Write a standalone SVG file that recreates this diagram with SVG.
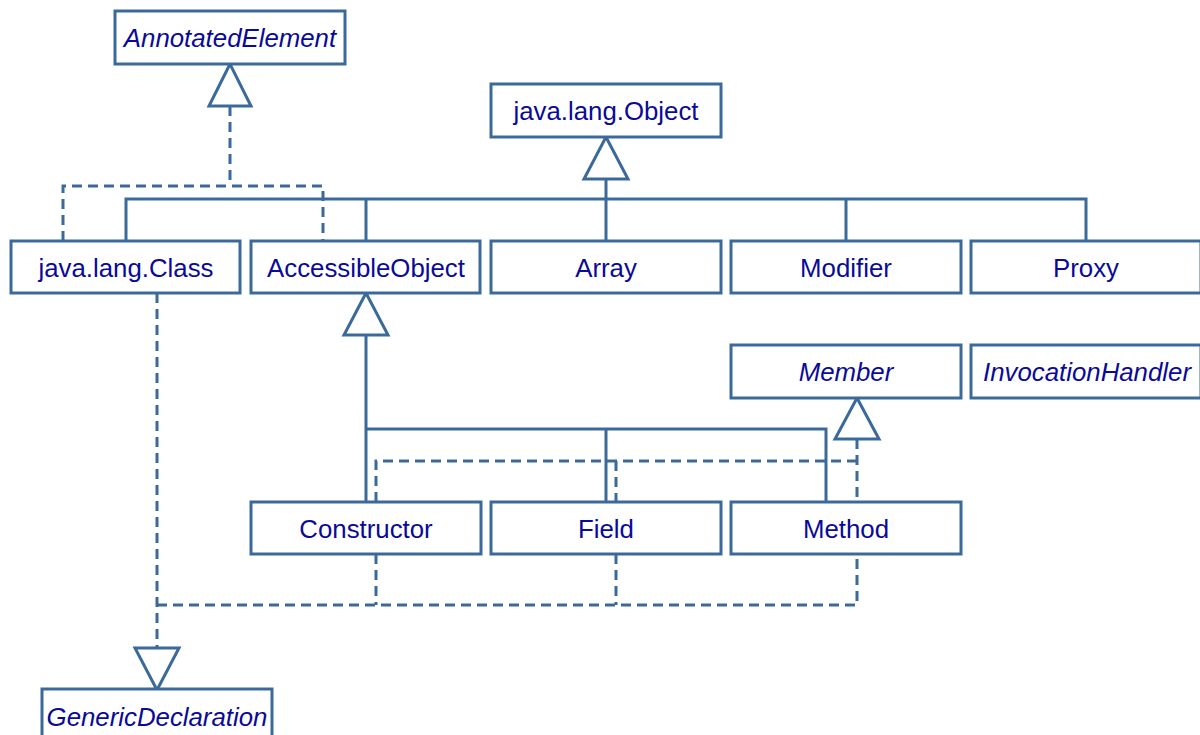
<svg xmlns="http://www.w3.org/2000/svg" width="1200" height="735" viewBox="0 0 1200 735">
<style>
.box{fill:#fff;stroke:#3b6a9a;stroke-width:3}
.t{font-family:"Liberation Sans",Arial,sans-serif;font-size:25.8px;fill:#0a0a99;text-anchor:middle}
.i{font-style:italic}
.s{fill:none;stroke:#3b6a9a;stroke-width:3}
.d{fill:none;stroke:#3b6a9a;stroke-width:3;stroke-dasharray:10 6}
.tri{fill:#fff;stroke:#3b6a9a;stroke-width:3;stroke-linejoin:miter}
</style>
<rect width="1200" height="735" fill="#fff"/>
<g id="connectors">
  <!-- realizations to AnnotatedElement -->
  <path class="d" d="M230 106 V186 M63 241 V186 H323 V241"/>
  <!-- inheritance from java.lang.Object -->
  <path class="s" d="M606 179 V241 M126 241 V199 H1086 V241 M366 199 V241 M846 199 V241"/>
  <!-- inheritance from AccessibleObject -->
  <path class="s" d="M366 335 V502 M366 429 H826 V502 M606 429 V502"/>
  <!-- realizations to Member -->
  <path class="d" d="M857 439 V502 M376 502 V461 H857 M616 461 V502"/>
  <!-- realizations to GenericDeclaration -->
  <path class="d" d="M157 293 V648 M157 605 H857 V554 M376 554 V605 M616 554 V605"/>
  <polygon class="tri" points="230,64 209,106 251,106"/>
  <polygon class="tri" points="606,137 584,179 628,179"/>
  <polygon class="tri" points="366,293 344,335 388,335"/>
  <polygon class="tri" points="857,398 835,439 879,439"/>
  <polygon class="tri" points="157,690 135,648 179,648"/>
</g>
<g id="AnnotatedElement"><rect class="box" x="115" y="11" width="230" height="53"/><text class="t i" x="230" y="47">AnnotatedElement</text></g>
<g id="Object"><rect class="box" x="491" y="84" width="230" height="53"/><text class="t" x="606" y="120">java.lang.Object</text></g>
<g id="Class"><rect class="box" x="11" y="241" width="229" height="52"/><text class="t" x="126" y="277">java.lang.Class</text></g>
<g id="AccessibleObject"><rect class="box" x="251" y="241" width="229" height="52"/><text class="t" x="366" y="277">AccessibleObject</text></g>
<g id="Array"><rect class="box" x="491" y="241" width="230" height="52"/><text class="t" x="606" y="277">Array</text></g>
<g id="Modifier"><rect class="box" x="731" y="241" width="230" height="52"/><text class="t" x="846" y="277">Modifier</text></g>
<g id="Proxy"><rect class="box" x="971" y="241" width="230" height="52"/><text class="t" x="1086" y="277">Proxy</text></g>
<g id="Member"><rect class="box" x="731" y="345" width="230" height="53"/><text class="t i" x="846" y="381">Member</text></g>
<g id="InvocationHandler"><rect class="box" x="971" y="345" width="230" height="53"/><text class="t i" x="1087" y="381">InvocationHandler</text></g>
<g id="Constructor"><rect class="box" x="251" y="502" width="230" height="52"/><text class="t" x="366" y="538">Constructor</text></g>
<g id="Field"><rect class="box" x="491" y="502" width="230" height="52"/><text class="t" x="606" y="538">Field</text></g>
<g id="Method"><rect class="box" x="731" y="502" width="230" height="52"/><text class="t" x="846" y="538">Method</text></g>
<g id="GenericDeclaration"><rect class="box" x="42" y="689" width="230" height="53"/><text class="t i" x="157" y="726">GenericDeclaration</text></g>
</svg>
